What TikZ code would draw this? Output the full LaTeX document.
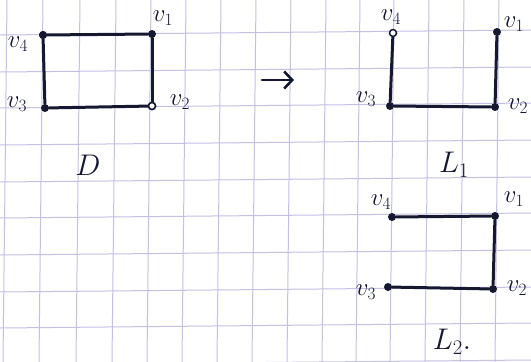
\documentclass[tikz,border=0pt]{standalone}
\usepackage{tikz}
\usetikzlibrary{arrows.meta}
\definecolor{ink}{RGB}{22,24,48}
\definecolor{gridc}{RGB}{196,192,228}
\tikzset{
  gridline/.style={draw=gridc, line width=1pt},
  edge/.style={draw=ink, line width=3pt, line cap=round},
  vdot/.style={circle, fill=ink, inner sep=0pt, minimum size=8pt},
  vhollow/.style={circle, draw=ink, fill=white, line width=1.5pt, inner sep=0pt, minimum size=7pt},
  lab/.style={text=ink, inner sep=0pt, font=\fontsize{25}{28}\selectfont},
  biglab/.style={text=ink, inner sep=0pt, font=\fontsize{25}{28}\selectfont, scale=1.2}
}
\begin{document}
\begin{tikzpicture}[x=1pt,y=-1pt]
\useasboundingbox (0,0) rectangle (531,362);
\clip (0,0) rectangle (531,362);
\fill[white] (0,0) rectangle (531,362);
% grid
\foreach \gx in {7,43,80,116,151,186,221,256,291,326,360,394,429,464,499}
  \draw[gridline] (\gx,0) -- (\gx-4,362);
\foreach \gy in {-1,35,72,108,145,182,218,255,292,328,365}
  \draw[gridline] (0,\gy) -- (531,\gy-5);
% graph D
\node[vdot] (d4) at (43,35) {};
\node[vdot] (d1) at (152,34) {};
\node[vdot] (d3) at (45,108) {};
\node[vhollow] (d2) at (152,106) {};
\draw[edge] (d4) -- (d1);
\draw[edge] (d4) -- (d3);
\draw[edge] (d3) -- (d2);
\draw[edge] (d1) -- (d2);
\node[vdot] at (d4) {};
\node[vhollow] at (d2) {};
\node[lab] (ld4) at (18,44) {$v_4$};
\node[lab] (ld1) at (163,18) {$v_1$};
\node[lab] (ld3) at (17,104) {$v_3$};
\node[lab] (ld2) at (180,102) {$v_2$};
\node[biglab] (D) at (88,165) {$D$};
% arrow
\coordinate (a1) at (262,80);
\coordinate (a2) at (294,80);
\draw[draw=ink, line width=2.8pt, line cap=round, -{Straight Barb[length=8pt,width=17pt,line width=2.6pt]}] (a1) -- (a2);
% graph L1
\node[vhollow] (p4) at (393,33) {};
\node[vdot] (p1) at (497,32) {};
\node[vdot] (p3) at (390,106) {};
\node[vdot] (p2) at (495,107) {};
\draw[edge] (p4) -- (p3);
\draw[edge] (p3) -- (p2);
\draw[edge] (p2) -- (p1);
\node[lab] (lp4) at (391,17) {$v_4$};
\node[lab] (lp1) at (514,24) {$v_1$};
\node[lab] (lp3) at (366,99) {$v_3$};
\node[lab] (lp2) at (518,106) {$v_2$};
\node[biglab] (L1) at (454,165) {$L_1$};
% graph L2
\node[vdot] (q4) at (392,217) {};
\node[vdot] (q1) at (495,216) {};
\node[vdot] (q3) at (388,287) {};
\node[vdot] (q2) at (493,289) {};
\draw[edge] (q4) -- (q1);
\draw[edge] (q1) -- (q2);
\draw[edge] (q2) -- (q3);
\node[lab] (lq4) at (381,202) {$v_4$};
\node[lab] (lq1) at (514,199) {$v_1$};
\node[lab] (lq3) at (366,292) {$v_3$};
\node[lab] (lq2) at (517,288) {$v_2$};
\node[biglab] (L2) at (452,342) {$L_2.$};
\end{tikzpicture}
\end{document}
